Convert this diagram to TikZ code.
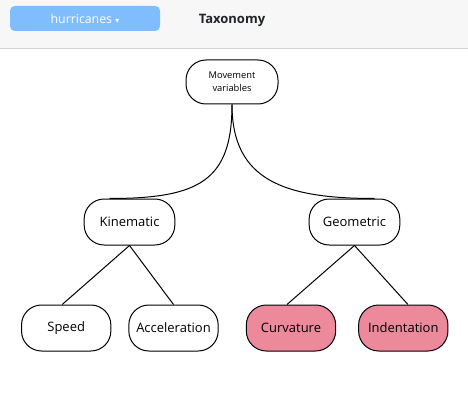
\documentclass[tikz,border=0pt]{standalone}
\usepackage{fontspec}
\setmainfont{Open Sans}
\newfontfamily\caretfont{DejaVu Sans}
\usetikzlibrary{positioning}
\definecolor{taxPink}{HTML}{EC8A9C}
\definecolor{taxBlue}{HTML}{80BDFF}
\definecolor{barGrey}{HTML}{F7F7F7}
\definecolor{barLine}{HTML}{D2D2D2}
\definecolor{titleDark}{HTML}{212529}

\begin{document}
\begin{tikzpicture}[
    x=0.75pt, y=-0.75pt,
    box/.style={rectangle, rounded corners=15pt, draw=black, fill=white,
                line width=0.75pt, minimum width=68pt, minimum height=34.5pt,
                inner sep=0pt, font=\fontsize{9.75}{11}\selectfont, align=center},
    hit/.style={box, fill=taxPink},
    link/.style={draw=black, line width=0.75pt},
    menubtn/.style={rectangle, rounded corners=3.5pt, fill=taxBlue,
                minimum width=112.5pt, minimum height=18.75pt,
                font=\fontsize{9.25}{10}\selectfont\color{white}},
  ]
    \useasboundingbox (0,0) rectangle (468,410);
    \fill[barGrey] (0,0) rectangle (468,48);
    \draw[barLine] (0,48.5) -- (468,48.5);

    \node[menubtn] (menu) at (85,18.5) {hurricanes {\caretfont\fontsize{6}{6}\selectfont ▾}};
    \node[font=\fontsize{9.75}{11}\selectfont\bfseries\color{titleDark}] (title) at (232,20) {Taxonomy};

    \node[box, minimum width=69pt, minimum height=33pt,
          font=\fontsize{7}{10}\selectfont] (root) at (232,82) {Movement\\variables};
    \node[box] (kin) at (129.5,222) {Kinematic};
    \node[box] (geo) at (354.5,222) {Geometric};

    \node[box, minimum width=67pt] (speed) at (66.2,328) {Speed};
    \node[box, minimum width=67pt] (accel) at (173.5,328) {Acceleration};
    \node[hit, minimum width=67pt] (curv) at (291,328) {Curvature};
    \node[hit, minimum width=67pt] (indent) at (403.3,328) {Indentation};

    \draw[link] (root.south) .. controls +(0,76) and +(90,0) .. ([xshift=-15pt]kin.north);
    \draw[link] (root.south) .. controls +(0,76) and +(-90,0) .. ([xshift=15pt]geo.north);

    \draw[link] (kin.south) -- ([xshift=-3pt]speed.north);
    \draw[link] (kin.south) -- (accel.north);
    \draw[link] (geo.south) -- ([xshift=-3pt]curv.north);
    \draw[link] (geo.south) -- ([xshift=3.5pt]indent.north);
  \end{tikzpicture}
\end{document}
